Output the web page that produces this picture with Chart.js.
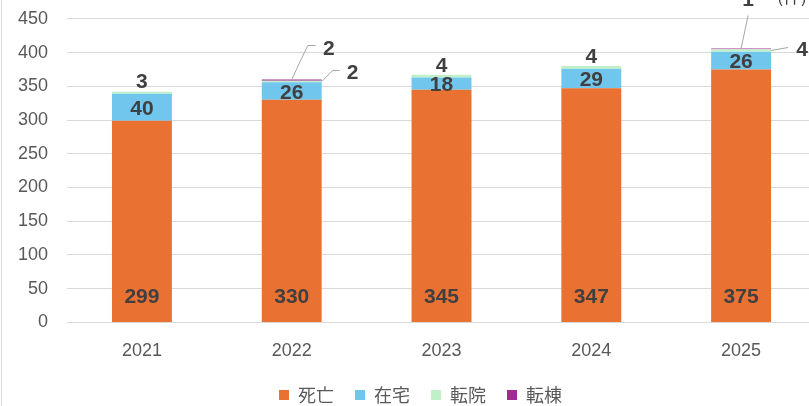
<!DOCTYPE html>
<html>
<head>
<meta charset="utf-8">
<script src="https://cdn.jsdelivr.net/npm/chart.js@4.4.1/dist/chart.umd.min.js"></script>
<style>
  html, body { margin: 0; padding: 0; overflow: hidden; background: #fff; }
  #wrap { position: absolute; left: 0; top: -11px; width: 866px; height: 417px; }
  #edge { position: absolute; left: 1px; top: 0; width: 1px; height: 406px; background: #d9d9d9; }
</style>
</head>
<body>
<div id="wrap"><canvas id="outcomeChart"></canvas></div>
<div id="edge"></div>
<script>
// データ
const years = ['2021', '2022', '2023', '2024', '2025'];
const deaths = [299, 330, 345, 347, 375];      // 死亡
const atHome = [40, 26, 18, 29, 26];           // 在宅
const toHospital = [3, 2, 4, 4, 4];            // 転院
const toWard = [0, 2, 0, 0, 1];                // 転棟
const yMax = 450;
const yStep = 50;

const labelColor = '#404040';
const labelFont = 'bold 21px "Liberation Sans", Arial, sans-serif';

// 引き出し線の形 (バーからの相対位置)
const calloutRight = { 1: [11, -11, 7, 13, 3], 4: [17, -3, 0, 14, 3] };
const calloutUp = { 1: [16, -34, 8, 13, 4], 4: [7, -33, 0, 0, -15] };

function drawText(ctx, text, x, y) {
    ctx.fillText(text, x, y);
}

const barLabels = {
    id: 'barLabels',
    afterLayout(chart) {
        // 凡例を少し右へ
        chart.legend.left += 13;
        chart.legend.right += 13;
    },
    afterDatasetsDraw(chart) {
        const ctx = chart.ctx;
        ctx.save();
        ctx.font = labelFont;
        ctx.fillStyle = labelColor;
        ctx.textBaseline = 'middle';
        ctx.strokeStyle = '#a6a6a6';
        ctx.lineWidth = 1;
        chart.data.datasets.forEach(function(ds, di) {
            const meta = chart.getDatasetMeta(di);
            meta.data.forEach(function(bar, i) {
                const v = ds.data[i];
                if (!v) return;
                ctx.textAlign = 'center';
                if (di === 0) {
                    drawText(ctx, v, bar.x, bar.base - 25);
                } else if (di === 1) {
                    drawText(ctx, v, bar.x, (bar.y + bar.base) / 2 + 2);
                } else if (di === 2) {
                    const c = calloutRight[i];
                    if (toWard[i] > 0 && c) {
                        const sx = bar.x + bar.width / 2;
                        const sy = (bar.y + bar.base) / 2;
                        const ex = sx + c[0], ey = sy + c[1];
                        ctx.beginPath();
                        ctx.moveTo(sx, sy);
                        ctx.lineTo(ex, ey);
                        ctx.lineTo(ex + c[2], ey);
                        ctx.stroke();
                        drawText(ctx, v, ex + c[2] + c[3], ey + c[4]);
                    } else {
                        drawText(ctx, v, bar.x, bar.y - 9);
                    }
                } else {
                    const c = calloutUp[i];
                    if (!c) return;
                    const sx = bar.x, sy = bar.y;
                    const ex = sx + c[0], ey = sy + c[1];
                    ctx.beginPath();
                    ctx.moveTo(sx, sy);
                    ctx.lineTo(ex, ey);
                    ctx.lineTo(ex + c[2], ey);
                    ctx.stroke();
                    drawText(ctx, v, ex + c[2] + c[3], ey + c[4]);
                }
            });
        });
        // 単位（上が切れている）
        ctx.font = '18px "Noto Sans CJK JP", sans-serif';
        ctx.fillStyle = '#404040';
        ctx.textAlign = 'left';
        ctx.fillText('(件)', 777, 7);
        ctx.restore();
    }
};

const ctx = document.getElementById('outcomeChart').getContext('2d');
new Chart(ctx, {
    type: 'bar',
    data: {
        labels: years,
        datasets: [
            { label: '死亡', data: deaths, backgroundColor: '#E97132' },
            { label: '在宅', data: atHome, backgroundColor: '#70C6EC' },
            { label: '転院', data: toHospital, backgroundColor: '#C1F0C8' },
            { label: '転棟', data: toWard, backgroundColor: '#A02B93' }
        ]
    },
    options: {
        responsive: true,
        maintainAspectRatio: false,
        animation: false,
        devicePixelRatio: 1,
        layout: { padding: { top: -3, right: 50, left: -1, bottom: -8 } },
        datasets: { bar: { categoryPercentage: 1, barPercentage: 0.4 } },
        plugins: {
            legend: {
                position: 'bottom',
                labels: {
                    boxWidth: 10,
                    boxHeight: 10,
                    padding: 21,
                    color: '#595959',
                    font: { size: 18, family: '"Noto Sans CJK JP", sans-serif' }
                }
            },
            tooltip: { enabled: false }
        },
        scales: {
            x: {
                stacked: true,
                grid: { display: false, tickLength: 15 },
                border: { color: '#d9d9d9' },
                ticks: { color: '#595959', padding: 3, font: { size: 18, family: '"Liberation Sans", Arial, sans-serif' } }
            },
            y: {
                stacked: true,
                min: 0,
                max: yMax,
                grid: { color: '#d9d9d9', drawTicks: false },
                border: { display: false },
                ticks: { stepSize: yStep, color: '#595959', padding: 19, font: { size: 18, family: '"Liberation Sans", Arial, sans-serif' } }
            }
        }
    },
    plugins: [barLabels]
});
</script>
</body>
</html>
